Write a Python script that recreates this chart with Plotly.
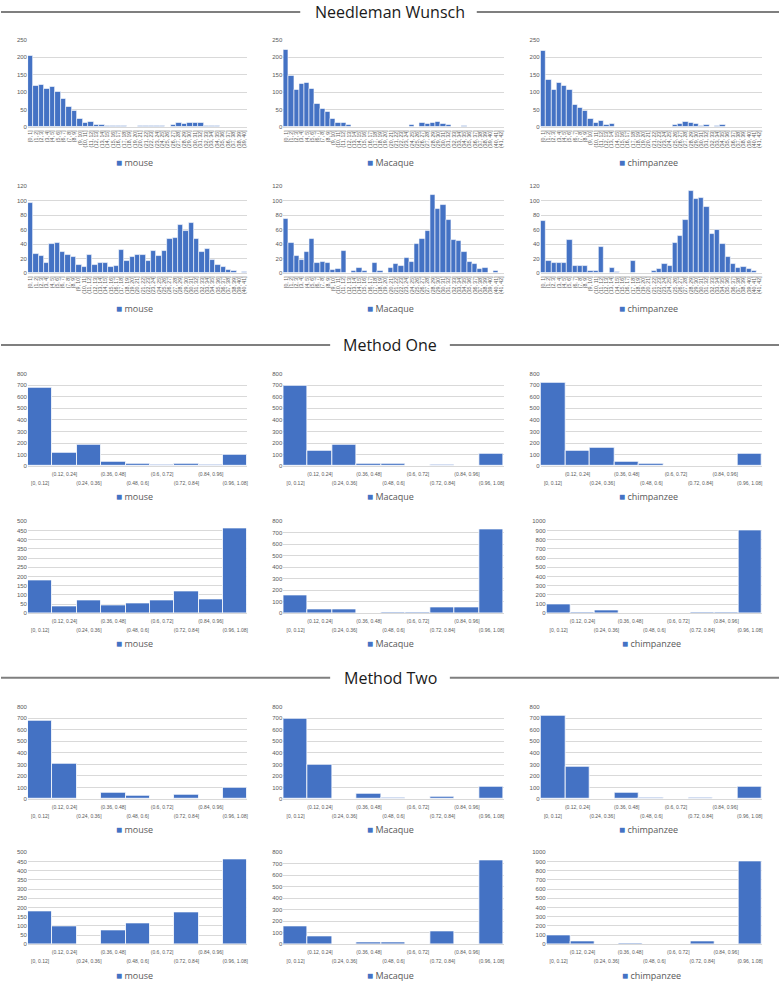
import plotly.graph_objects as go

W, H = 780, 983
BLUE = "#4472C4"
GRID = "#d9d9d9"
TXT = "#595959"

# ---------------- data ----------------
nw_labels_40 = ["[0, 1]"] + ["(%d, %d]" % (i, i + 1) for i in range(1, 40)]
nw_labels_41 = ["[0, 1]"] + ["(%d, %d]" % (i, i + 1) for i in range(1, 41)]
nw_labels_42 = ["[0, 1]"] + ["(%d, %d]" % (i, i + 1) for i in range(1, 42)]

method_labels = ["[0, 0.12]", "(0.12, 0.24]", "(0.24, 0.36]", "(0.36, 0.48]", "(0.48, 0.6]",
                 "(0.6, 0.72]", "(0.72, 0.84]", "(0.84, 0.96]", "(0.96, 1.08]"]

nw1_mouse = [205, 118, 120, 109, 117, 100, 80, 58, 47, 25,
             14, 17, 8, 6, 3, 4, 4, 4, 0, 1,
             3, 3, 5, 5, 5, 0, 6, 14, 10, 14,
             13, 12, 3, 3, 4, 0, 0, 0, 0, 0]
nw1_macaque = [222, 146, 107, 123, 128, 111, 67, 53, 43, 25,
               12, 12, 6, 0, 1, 0, 1, 1, 1, 0,
               1, 1, 0, 1, 6, 2, 12, 10, 13, 15,
               9, 6, 2, 0, 5, 0, 0, 0, 0, 0,
               0, 0]
nw1_chimp = [219, 135, 106, 128, 118, 106, 65, 56, 47, 23,
             13, 19, 6, 10, 1, 0, 1, 1, 1, 0,
             0, 0, 1, 1, 0, 7, 9, 15, 13, 10,
             4, 6, 1, 4, 6, 0, 0, 0, 0, 0,
             0, 0]

nw2_mouse = [97, 27, 24, 15, 41, 42, 29, 26, 22, 12,
             9, 25, 12, 14, 15, 9, 10, 32, 17, 22,
             25, 25, 17, 31, 24, 31, 47, 49, 67, 58,
             69, 47, 29, 34, 18, 11, 9, 5, 4, 0,
             2]
nw2_macaque = [75, 42, 24, 18, 30, 47, 15, 16, 15, 5,
               6, 31, 0, 4, 7, 4, 1, 15, 4, 1,
               8, 13, 10, 21, 16, 41, 47, 58, 107, 88,
               94, 74, 46, 44, 29, 16, 13, 6, 7, 1,
               3, 1]
nw2_chimp = [72, 17, 14, 14, 15, 46, 10, 10, 10, 3,
             4, 36, 1, 7, 2, 0, 0, 17, 0, 0,
             0, 3, 6, 13, 10, 42, 52, 74, 113, 102,
             104, 91, 54, 60, 40, 22, 13, 8, 9, 6,
             3, 1]

m1_mouse_a = [680, 120, 185, 35, 25, 15, 22, 15, 95]
m1_macaque_a = [700, 130, 185, 25, 25, 5, 15, 5, 105]
m1_chimp_a = [720, 130, 160, 35, 25, 5, 5, 5, 110]
m1_mouse_b = [180, 38, 68, 45, 55, 68, 118, 78, 462]
m1_macaque_b = [155, 30, 35, 0, 5, 5, 50, 55, 730]
m1_chimp_b = [100, 15, 30, 0, 0, 0, 15, 10, 905]

m2_mouse_a = [680, 305, 0, 55, 28, 0, 35, 0, 98]
m2_macaque_a = [700, 300, 0, 50, 10, 0, 20, 0, 105]
m2_chimp_a = [720, 280, 0, 55, 10, 0, 15, 0, 110]
m2_mouse_b = [178, 100, 0, 75, 115, 0, 172, 0, 460]
m2_macaque_b = [155, 68, 0, 15, 15, 0, 110, 0, 730]
m2_chimp_b = [100, 35, 0, 5, 0, 0, 30, 0, 905]

names = ["mouse", "Macaque", "chimpanzee"]

# ---------------- layout geometry (pixels) ----------------
cols = [(27, 247), (283, 504), (541, 763)]
rows = {  # top, bottom, legend y
    "nw1": (37, 125, 160),
    "nw2": (184, 272, 307),
    "m1a": (373, 466, 496),
    "m1b": (521.5, 614, 644),
    "m2a": (708, 801, 831),
    "m2b": (854.5, 947, 978),
}

panels = [
    ("nw1", 0, nw1_mouse, nw_labels_40, 250, 50),
    ("nw1", 1, nw1_macaque, nw_labels_42, 250, 50),
    ("nw1", 2, nw1_chimp, nw_labels_42, 250, 50),
    ("nw2", 0, nw2_mouse, nw_labels_41, 120, 20),
    ("nw2", 1, nw2_macaque, nw_labels_42, 120, 20),
    ("nw2", 2, nw2_chimp, nw_labels_42, 120, 20),
    ("m1a", 0, m1_mouse_a, method_labels, 800, 100),
    ("m1a", 1, m1_macaque_a, method_labels, 800, 100),
    ("m1a", 2, m1_chimp_a, method_labels, 800, 100),
    ("m1b", 0, m1_mouse_b, method_labels, 500, 50),
    ("m1b", 1, m1_macaque_b, method_labels, 800, 100),
    ("m1b", 2, m1_chimp_b, method_labels, 1000, 100),
    ("m2a", 0, m2_mouse_a, method_labels, 800, 100),
    ("m2a", 1, m2_macaque_a, method_labels, 800, 100),
    ("m2a", 2, m2_chimp_a, method_labels, 800, 100),
    ("m2b", 0, m2_mouse_b, method_labels, 500, 50),
    ("m2b", 1, m2_macaque_b, method_labels, 800, 100),
    ("m2b", 2, m2_chimp_b, method_labels, 1000, 100),
]

fig = go.Figure()
layout = {}
annotations = []
shapes = []

for i, (rk, c, vals, labels, ymax, dt) in enumerate(panels, start=1):
    top, bot, ly = rows[rk]
    x0, x1 = cols[c]
    if ymax >= 1000:
        x0 = 547
    n = len(vals)
    sfx = "" if i == 1 else str(i)
    is_nw = rk.startswith("nw")
    fig.add_trace(go.Bar(
        x=list(range(n)), y=vals, name=names[c],
        xaxis="x" + sfx, yaxis="y" + sfx,
        marker=dict(color=BLUE, line=dict(color="white", width=0.6 if is_nw else 0.8)),
        showlegend=False, hoverinfo="x+y",
    ))
    common = dict(range=[-0.5, n - 0.5], showgrid=False, ticks="", zeroline=False,
                  fixedrange=True)
    if is_nw:
        layout["xaxis" + sfx] = dict(
            domain=[x0 / W, x1 / W], anchor="y" + sfx,
            tickmode="array", tickvals=list(range(n)), ticktext=labels, tickangle=-90,
            tickfont=dict(size=5.2, color=TXT, family="Liberation Sans"),
            showline=True, linecolor=GRID, linewidth=1, **common)
    else:
        up_idx = [k for k in range(n) if k % 2 == 1]
        lo_idx = [k for k in range(n) if k % 2 == 0]
        # upper row of the staggered labels
        layout["xaxis" + sfx] = dict(
            domain=[x0 / W, x1 / W], anchor="y" + sfx,
            tickmode="array", tickvals=up_idx, ticktext=[labels[k] for k in up_idx],
            tickangle=0, ticklabelstandoff=3,
            tickfont=dict(size=5, color=TXT, family="Liberation Sans"),
            showline=True, linecolor=GRID, linewidth=1, **common)
        # lower row of the staggered labels on an overlaying axis
        extra = str(100 + i)
        layout["xaxis" + extra] = dict(
            domain=[x0 / W, x1 / W], anchor="y" + sfx, overlaying="x" + sfx, side="bottom",
            tickmode="array", tickvals=lo_idx, ticktext=[labels[k] for k in lo_idx],
            tickangle=0, ticklabelstandoff=13,
            tickfont=dict(size=5, color=TXT, family="Liberation Sans"),
            showline=False, **common)
        fig.add_trace(go.Scatter(x=[], y=[], xaxis="x" + extra, yaxis="y" + sfx,
                                 showlegend=False, hoverinfo="skip"))
    layout["yaxis" + sfx] = dict(
        domain=[1 - bot / H, 1 - top / H], anchor="x" + sfx,
        range=[0, ymax], dtick=dt, tick0=0, showgrid=True, gridcolor=GRID,
        gridwidth=0.8, zeroline=False, showline=False, ticks="",
        tickfont=dict(size=6, color=TXT, family="Liberation Sans"),
        fixedrange=True,
    )
    annotations.append(dict(
        x=((x0 + x1) / 2 - 3) / W, y=1 - ly / H, xref="paper", yref="paper",
        text="<span style='color:%s;font-size:10px'>■</span> %s" % (BLUE, names[c]),
        showarrow=False, xanchor="center", yanchor="middle",
        font=dict(size=9, color=TXT, family="Open Sans"),
    ))

# section titles with rules
sections = [("Needleman Wunsch", 9, 300, 477),
            ("Method One", 344, 330, 450),
            ("Method Two", 679, 330, 450)]
for title, yy, lend, rstart in sections:
    annotations.append(dict(
        x=0.5, y=1 - yy / H, xref="paper", yref="paper", text=title,
        showarrow=False, xanchor="center", yanchor="middle",
        font=dict(size=16, color="#1a1a1a", family="Open Sans"),
    ))
    for a, b in [(0, lend), (rstart, W)]:
        shapes.append(dict(type="line", xref="paper", yref="paper",
                           x0=a / W, x1=b / W, y0=1 - yy / H, y1=1 - yy / H,
                           line=dict(color="#7f7f7f", width=2)))

fig.update_layout(
    width=W, height=H, autosize=False,
    margin=dict(l=0, r=0, t=0, b=0),
    paper_bgcolor="white", plot_bgcolor="white",
    bargap=0, showlegend=False,
    annotations=annotations, shapes=shapes,
    **layout,
)

fig.write_html("out.html", config={"displayModeBar": False},
               post_script="document.body.style.margin='0';document.body.style.overflow='hidden';")
